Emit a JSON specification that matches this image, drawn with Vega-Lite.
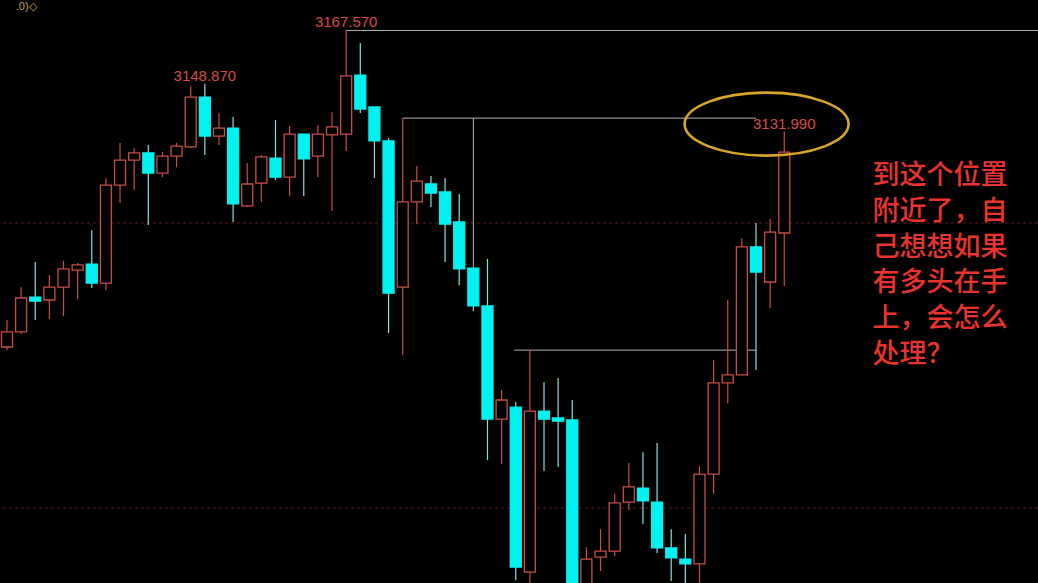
{
  "$schema": "https://vega.github.io/schema/vega-lite/v6.json",
  "width": 1038,
  "height": 583,
  "autosize": {"type": "none"},
  "padding": 0,
  "background": "#000000",
  "config": {"view": {"stroke": null}},
  "datasets": {
    "candles": [
      {"i": 0, "o": 3056.5, "h": 3066.0, "l": 3055.4, "c": 3061.8},
      {"i": 1, "o": 3061.8, "h": 3077.5, "l": 3061.1, "c": 3073.7},
      {"i": 2, "o": 3074.0, "h": 3086.3, "l": 3066.0, "c": 3072.6},
      {"i": 3, "o": 3073.0, "h": 3081.8, "l": 3066.3, "c": 3077.5},
      {"i": 4, "o": 3077.5, "h": 3086.7, "l": 3067.4, "c": 3083.9},
      {"i": 5, "o": 3083.5, "h": 3086.0, "l": 3073.3, "c": 3085.3},
      {"i": 6, "o": 3085.6, "h": 3097.5, "l": 3077.2, "c": 3078.9},
      {"i": 7, "o": 3078.9, "h": 3115.8, "l": 3076.5, "c": 3113.3},
      {"i": 8, "o": 3113.3, "h": 3128.1, "l": 3107.0, "c": 3122.1},
      {"i": 9, "o": 3122.1, "h": 3126.3, "l": 3111.6, "c": 3124.6},
      {"i": 10, "o": 3124.6, "h": 3127.4, "l": 3099.3, "c": 3117.5},
      {"i": 11, "o": 3117.5, "h": 3124.9, "l": 3116.1, "c": 3123.5},
      {"i": 12, "o": 3123.5, "h": 3128.1, "l": 3119.6, "c": 3127.0},
      {"i": 13, "o": 3126.7, "h": 3148.0, "l": 3126.3, "c": 3144.2},
      {"i": 14, "o": 3144.2, "h": 3148.87, "l": 3123.9, "c": 3130.5},
      {"i": 15, "o": 3130.5, "h": 3138.6, "l": 3127.4, "c": 3133.3},
      {"i": 16, "o": 3133.3, "h": 3137.2, "l": 3100.4, "c": 3106.7},
      {"i": 17, "o": 3106.0, "h": 3121.1, "l": 3105.6, "c": 3113.7},
      {"i": 18, "o": 3114.0, "h": 3123.9, "l": 3107.4, "c": 3123.2},
      {"i": 19, "o": 3122.8, "h": 3136.1, "l": 3115.1, "c": 3116.1},
      {"i": 20, "o": 3116.1, "h": 3134.0, "l": 3109.5, "c": 3131.2},
      {"i": 21, "o": 3131.2, "h": 3131.2, "l": 3109.5, "c": 3122.5},
      {"i": 22, "o": 3123.5, "h": 3134.4, "l": 3116.1, "c": 3131.2},
      {"i": 23, "o": 3130.9, "h": 3138.9, "l": 3104.2, "c": 3133.7},
      {"i": 24, "o": 3131.2, "h": 3167.57, "l": 3125.3, "c": 3151.6},
      {"i": 25, "o": 3151.9, "h": 3163.2, "l": 3138.6, "c": 3140.0},
      {"i": 26, "o": 3140.7, "h": 3140.7, "l": 3115.8, "c": 3128.8},
      {"i": 27, "o": 3128.8, "h": 3129.8, "l": 3061.4, "c": 3075.4},
      {"i": 28, "o": 3077.5, "h": 3136.8, "l": 3053.7, "c": 3107.4},
      {"i": 29, "o": 3107.4, "h": 3120.0, "l": 3099.6, "c": 3114.7},
      {"i": 30, "o": 3113.7, "h": 3116.5, "l": 3105.6, "c": 3110.5},
      {"i": 31, "o": 3110.9, "h": 3115.8, "l": 3086.3, "c": 3099.6},
      {"i": 32, "o": 3100.4, "h": 3110.2, "l": 3078.2, "c": 3083.9},
      {"i": 33, "o": 3084.2, "h": 3084.2, "l": 3069.1, "c": 3070.9},
      {"i": 34, "o": 3070.9, "h": 3087.4, "l": 3016.8, "c": 3031.2},
      {"i": 35, "o": 3031.2, "h": 3041.4, "l": 3015.4, "c": 3037.9},
      {"i": 36, "o": 3035.4, "h": 3037.2, "l": 2974.7, "c": 2979.3},
      {"i": 37, "o": 2977.5, "h": 3055.4, "l": 2965.0, "c": 3034.0},
      {"i": 38, "o": 3034.0, "h": 3044.2, "l": 3013.0, "c": 3031.2},
      {"i": 39, "o": 3031.6, "h": 3045.6, "l": 3014.4, "c": 3030.5},
      {"i": 40, "o": 3030.9, "h": 3037.9, "l": 2960.0, "c": 2965.0},
      {"i": 41, "o": 2965.0, "h": 2986.3, "l": 2960.0, "c": 2982.1},
      {"i": 42, "o": 2982.8, "h": 2992.6, "l": 2977.9, "c": 2984.9},
      {"i": 43, "o": 2984.9, "h": 3004.9, "l": 2983.2, "c": 3001.8},
      {"i": 44, "o": 3002.1, "h": 3015.8, "l": 2999.3, "c": 3007.4},
      {"i": 45, "o": 3007.0, "h": 3019.6, "l": 2994.4, "c": 3002.5},
      {"i": 46, "o": 3002.1, "h": 3022.8, "l": 2984.2, "c": 2986.0},
      {"i": 47, "o": 2986.0, "h": 2992.6, "l": 2974.4, "c": 2982.5},
      {"i": 48, "o": 2982.1, "h": 2990.9, "l": 2970.0, "c": 2980.4},
      {"i": 49, "o": 2980.4, "h": 3014.7, "l": 2970.0, "c": 3011.9},
      {"i": 50, "o": 3011.9, "h": 3051.9, "l": 3004.9, "c": 3043.9},
      {"i": 51, "o": 3043.9, "h": 3073.0, "l": 3036.8, "c": 3046.7},
      {"i": 52, "o": 3046.7, "h": 3094.7, "l": 3046.7, "c": 3091.6},
      {"i": 53, "o": 3091.6, "h": 3100.0, "l": 3048.4, "c": 3082.8},
      {"i": 54, "o": 3079.3, "h": 3101.4, "l": 3070.2, "c": 3096.8},
      {"i": 55, "o": 3096.5, "h": 3131.99, "l": 3077.9, "c": 3124.9}
    ],
    "grid": [{"p": 3100}, {"p": 3000}],
    "segments": [
      {"a": 24, "b": 80, "p": 3167.57, "q": 3167.57},
      {"a": 28, "b": 53, "p": 3136.8, "q": 3136.8},
      {"a": 35.9, "b": 53, "p": 3055.4, "q": 3055.4},
      {"a": 33, "b": 33, "p": 3136.8, "q": 3084.2}
    ],
    "labels": [
      {"i": 24, "p": 3167.57, "t": "3167.570"},
      {"i": 14, "p": 3148.87, "t": "3148.870"},
      {"i": 55, "p": 3131.99, "t": "3131.990"}
    ],
    "ellipse": [{"i": 53.75, "p": 3134.7}],
    "note": [{"i": 61.25, "p": 3121.05, "t": "到这个位置\n附近了，自\n己想想如果\n有多头在手\n上，会怎么\n处理？"}],
    "corner": [{"i": 2.1, "p": 3174.7, "t": ".0)◇"}]
  },
  "layer": [
    {
      "data": {"name": "grid"},
      "mark": {"type": "rule", "color": "#5e1c1c", "strokeWidth": 1, "strokeDash": [3, 3]},
      "encoding": {
        "y": {"field": "p", "type": "quantitative", "scale": {"domain": [2973.7, 3178.25], "nice": false, "zero": false}, "axis": null}
      }
    },
    {
      "data": {"name": "segments"},
      "mark": {"type": "rule", "color": "#b4b4b4", "strokeWidth": 1, "clip": true},
      "encoding": {
        "x": {"field": "a", "type": "quantitative", "scale": {"domain": [-0.14, 72.6], "nice": false, "zero": false}, "axis": null},
        "x2": {"field": "b"},
        "y": {"field": "p", "type": "quantitative", "axis": null},
        "y2": {"field": "q"}
      }
    },
    {
      "data": {"name": "candles"},
      "mark": {"type": "rule", "strokeWidth": 1.2, "clip": true},
      "encoding": {
        "x": {"field": "i", "type": "quantitative", "axis": null},
        "y": {"field": "l", "type": "quantitative", "axis": null},
        "y2": {"field": "h"},
        "color": {"condition": {"test": "datum.c >= datum.o", "value": "#c84e46"}, "value": "#86e2e2"}
      }
    },
    {
      "data": {"name": "candles"},
      "mark": {"type": "bar", "width": 11, "strokeWidth": 1.3, "clip": true},
      "encoding": {
        "x": {"field": "i", "type": "quantitative", "axis": null},
        "y": {"field": "o", "type": "quantitative", "axis": null},
        "y2": {"field": "c"},
        "fill": {"condition": {"test": "datum.c >= datum.o", "value": "#000000"}, "value": "#02f2f2"},
        "stroke": {"condition": {"test": "datum.c >= datum.o", "value": "#c84e46"}, "value": "#02f2f2"}
      }
    },
    {
      "data": {"name": "labels"},
      "mark": {"type": "text", "font": "Liberation Sans", "fontSize": 15, "color": "#dc4a44", "align": "center", "baseline": "alphabetic", "dy": -3},
      "encoding": {
        "x": {"field": "i", "type": "quantitative", "axis": null},
        "y": {"field": "p", "type": "quantitative", "axis": null},
        "text": {"field": "t", "type": "nominal"}
      }
    },
    {
      "data": {"name": "ellipse"},
      "mark": {"type": "point", "shape": "M-1,0C-1,-0.212,-0.552,-0.384,0,-0.384C0.552,-0.384,1,-0.212,1,0C1,0.212,0.552,0.384,0,0.384C-0.552,0.384,-1,0.212,-1,0Z", "size": 26896, "filled": false, "stroke": "#d9a62a", "strokeWidth": 2.6, "opacity": 1},
      "encoding": {
        "x": {"field": "i", "type": "quantitative", "axis": null},
        "y": {"field": "p", "type": "quantitative", "axis": null}
      }
    },
    {
      "data": {"name": "note"},
      "mark": {"type": "text", "font": "Noto Sans CJK SC", "fontSize": 27, "fontWeight": 500, "lineHeight": 35.8, "lineBreak": "\n", "color": "#e8342c", "align": "left", "baseline": "top"},
      "encoding": {
        "x": {"field": "i", "type": "quantitative", "axis": null},
        "y": {"field": "p", "type": "quantitative", "axis": null},
        "text": {"field": "t", "type": "nominal"}
      }
    },
    {
      "data": {"name": "corner"},
      "mark": {"type": "text", "font": "Liberation Sans", "fontSize": 11, "color": "#c9a15a", "align": "right", "baseline": "alphabetic"},
      "encoding": {
        "x": {"field": "i", "type": "quantitative", "axis": null},
        "y": {"field": "p", "type": "quantitative", "axis": null},
        "text": {"field": "t", "type": "nominal"}
      }
    }
  ]
}
